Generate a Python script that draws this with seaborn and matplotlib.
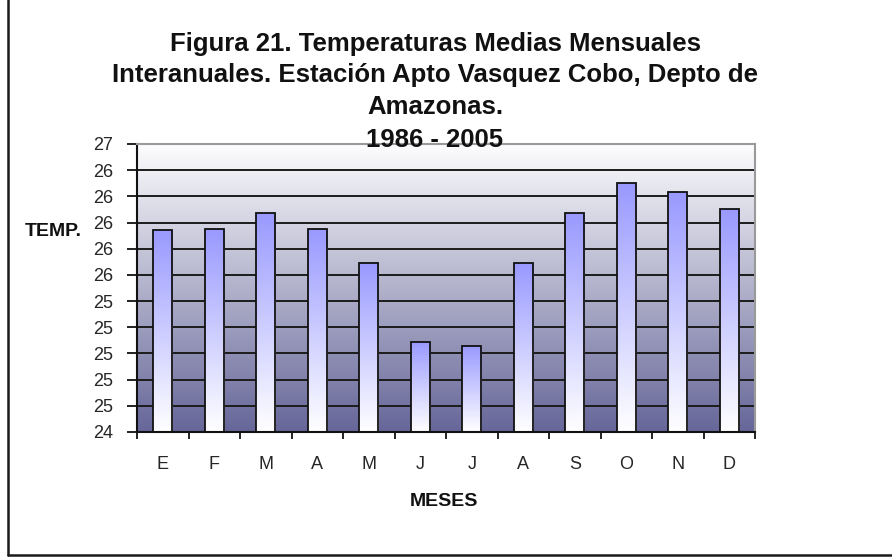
import numpy as np
import pandas as pd
import matplotlib
matplotlib.use("Agg")
import matplotlib.pyplot as plt
from matplotlib.colors import LinearSegmentedColormap
from matplotlib.lines import Line2D
import seaborn as sns

# Monthly mean temperatures (°C), 1986-2005
meses = ["Enero", "Febrero", "Marzo", "Abril", "Mayo", "Junio",
         "Julio", "Agosto", "Septiembre", "Octubre", "Noviembre", "Diciembre"]
iniciales = ["E", "F", "M", "A", "M", "J", "J", "A", "S", "O", "N", "D"]
temperaturas = [25.94, 25.95, 26.07, 25.95, 25.69, 25.09,
                25.06, 25.69, 26.07, 26.30, 26.23, 26.10]

y_ticks = [24.4, 24.6, 24.8, 25.0, 25.2, 25.4, 25.6, 25.8, 26.0, 26.2, 26.4, 26.6]
y_tick_labels = ["24", "25", "25", "25", "25", "25", "26", "26", "26", "26", "26", "27"]

titulo = ["Figura 21. Temperaturas Medias Mensuales",
          "Interanuales. Estación Apto Vasquez Cobo, Depto de",
          "Amazonas.",
          "1986 - 2005"]

df = pd.DataFrame({"mes": meses, "temp": temperaturas})

sns.set_theme(style="white")
plt.rcParams["font.family"] = ["Liberation Sans", "DejaVu Sans"]

W, H = 892, 558
fig = plt.figure(figsize=(W / 100, H / 100), dpi=100)
fig.patch.set_facecolor("white")
ax = fig.add_axes([137 / W, 1 - 432 / H, (755 - 137) / W, (432 - 144) / H])

sns.barplot(data=df, x="mes", y="temp", width=0.37, color="#9999ff",
            edgecolor="#111111", linewidth=1.3, ax=ax)

xlim = (-0.5, len(meses) - 0.5)
ylim = (y_ticks[0], y_ticks[-1])
ax.set_xlim(*xlim)
ax.set_ylim(*ylim)

# plot-area background: white at the top fading to slate blue
bg_cmap = LinearSegmentedColormap.from_list("bg", ["#666699", "#fdfdfe"])
grad = np.linspace(0, 1, 256).reshape(-1, 1)
ax.imshow(grad, extent=[xlim[0], xlim[1], ylim[0], ylim[1]], origin="lower",
          aspect="auto", cmap=bg_cmap, zorder=0)

# bars: periwinkle at the top fading to white at the base
bar_cmap = LinearSegmentedColormap.from_list("bar", ["#ffffff", "#9999ff"])
for patch in ax.patches:
    x0 = patch.get_x()
    w = patch.get_width()
    top = patch.get_y() + patch.get_height()
    img = ax.imshow(grad, extent=[x0, x0 + w, ylim[0], top], origin="lower",
                    aspect="auto", cmap=bar_cmap, zorder=2)
    img.set_clip_path(patch)
    patch.set_facecolor("none")
    patch.set_zorder(3)

ax.set_xlim(*xlim)
ax.set_ylim(*ylim)

# horizontal gridlines
ax.set_axisbelow(True)
ax.yaxis.grid(True, color="#1c1c1c", linewidth=1.4)
ax.xaxis.grid(False)

ax.set_yticks(y_ticks)
ax.set_yticklabels(y_tick_labels)
ax.set_xticks(range(len(meses)))
ax.set_xticklabels(iniciales)
ax.set_xticks(np.arange(-0.5, len(meses), 1.0), minor=True)
ax.tick_params(axis="x", which="major", length=0, pad=17, labelsize=13, labelcolor="#262626")
ax.tick_params(axis="x", which="minor", length=5, width=1.3, color="#111111", direction="out", bottom=True)
ax.tick_params(axis="y", length=7, width=1.3, color="#111111", direction="out", left=True,
               labelsize=13, labelcolor="#262626", pad=10)
ax.set_xlabel("")
ax.set_ylabel("")

for side in ["left", "bottom"]:
    ax.spines[side].set_color("#111111")
    ax.spines[side].set_linewidth(1.5)
for side in ["top", "right"]:
    ax.spines[side].set_color("#9a9a9a")
    ax.spines[side].set_linewidth(1.5)

# title, one line at a time (baselines in pixels from the top)
for linea, base in zip(titulo, [51, 82, 114, 147]):
    fig.text(435 / W, 1 - base / H, linea, ha="center", va="baseline",
             fontsize=18.5, fontweight="bold", color="#111111", zorder=5)

fig.text(25 / W, 1 - 232 / H, "TEMP.", ha="left", va="center",
         fontsize=14, fontweight="bold", color="#111111")
fig.text(444 / W, 1 - 502 / H, "MESES", ha="center", va="center",
         fontsize=14, fontweight="bold", color="#111111")

# outer chart border (left and bottom edges)
fig.add_artist(Line2D([8 / W, 8 / W], [1.0, 1 - 555 / H], transform=fig.transFigure,
                      color="#1a1a1a", linewidth=1.8))
fig.add_artist(Line2D([8 / W, 1.0], [1 - 555 / H, 1 - 555 / H], transform=fig.transFigure,
                      color="#1a1a1a", linewidth=1.8))

fig.savefig("out.png", dpi=100, facecolor="white")
